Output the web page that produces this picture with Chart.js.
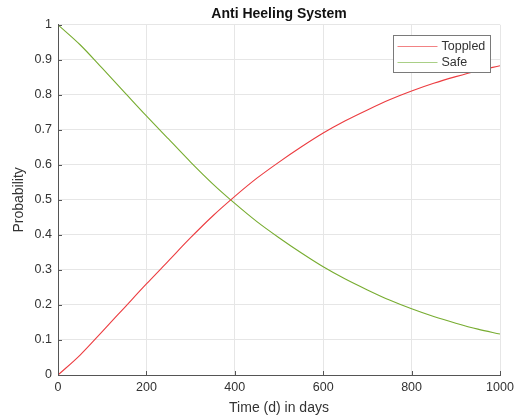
<!DOCTYPE html>
<html>
<head>
<meta charset="utf-8">
<script src="https://cdn.jsdelivr.net/npm/chart.js@4"></script>
<style>
  html, body { margin: 0; padding: 0; background: #fff; }
  #wrap { width: 522px; height: 419px; }
</style>
</head>
<body>
<div id="wrap"><canvas id="chart" width="522" height="419"></canvas></div>
<script>
// values, every 50 days
const days = [0, 50, 100, 150, 200, 250, 300, 350, 400, 450, 500, 550, 600, 650, 700, 750, 800, 850, 900, 950, 1000];
const toppled = [0.000, 0.057, 0.124, 0.192, 0.260, 0.326, 0.392, 0.454, 0.510, 0.562, 0.608, 0.651, 0.691, 0.726, 0.757, 0.786, 0.811, 0.833, 0.852, 0.869, 0.883];
const safe = [1.000, 0.943, 0.876, 0.808, 0.740, 0.674, 0.608, 0.546, 0.490, 0.438, 0.392, 0.349, 0.309, 0.274, 0.243, 0.214, 0.189, 0.167, 0.148, 0.131, 0.117];
const xTicks = [0, 200, 400, 600, 800, 1000];
const yTicks = [0, 0.1, 0.2, 0.3, 0.4, 0.5, 0.6, 0.7, 0.8, 0.9, 1];

const FONT = "Arial, 'Liberation Sans', Helvetica, sans-serif";
const textColor = '#333333';

const toPoints = (xs, ys) => xs.map((x, i) => ({ x: x, y: ys[i] }));

// inward tick marks like the original plot
const innerTicks = {
    id: 'innerTicks',
    afterDraw(chart) {
        const { ctx, chartArea, scales } = chart;
        ctx.save();
        ctx.strokeStyle = '#555555';
        ctx.lineWidth = 1;
        ctx.beginPath();
        xTicks.forEach(v => {
            const px = Math.round(scales.x.getPixelForValue(v)) + 0.5;
            ctx.moveTo(px, chartArea.bottom);
            ctx.lineTo(px, chartArea.bottom - 4);
        });
        yTicks.forEach(v => {
            const py = Math.round(scales.y.getPixelForValue(v)) + 0.5;
            ctx.moveTo(chartArea.left, py);
            ctx.lineTo(chartArea.left + 4, py);
        });
        ctx.stroke();
        ctx.restore();
    }
};

// legend box sitting inside the plot, top right
const boxLegend = {
    id: 'boxLegend',
    afterDraw(chart) {
        const { ctx, chartArea } = chart;
        const w = 97, h = 37;
        const x0 = Math.round(chartArea.right - 10 - w) + 0.5;
        const y0 = Math.round(chartArea.top + 10) + 0.5;
        ctx.save();
        ctx.fillStyle = '#ffffff';
        ctx.strokeStyle = '#7a7a7a';
        ctx.lineWidth = 1;
        ctx.fillRect(x0, y0, w, h);
        ctx.strokeRect(x0, y0, w, h);
        ctx.font = '12.5px ' + FONT;
        ctx.textBaseline = 'middle';
        chart.data.datasets.forEach((ds, i) => {
            const ly = y0 + 11 + i * 16;
            ctx.strokeStyle = ds.legendColor;
            ctx.beginPath();
            ctx.moveTo(x0 + 4, ly);
            ctx.lineTo(x0 + 44, ly);
            ctx.stroke();
            ctx.fillStyle = textColor;
            ctx.fillText(ds.label, x0 + 48, ly);
        });
        ctx.restore();
    }
};

new Chart(document.getElementById('chart'), {
    type: 'line',
    data: {
        datasets: [
            {
                label: 'Toppled',
                data: toPoints(days, toppled),
                borderColor: 'rgb(236, 60, 64)',
                legendColor: 'rgb(242, 130, 132)',
                borderWidth: 1.1,
                pointRadius: 0,
                cubicInterpolationMode: 'monotone'
            },
            {
                label: 'Safe',
                data: toPoints(days, safe),
                borderColor: '#77AC30',
                legendColor: '#a9cf86',
                borderWidth: 1.1,
                pointRadius: 0,
                cubicInterpolationMode: 'monotone'
            }
        ]
    },
    options: {
        responsive: false,
        animation: false,
        layout: { padding: { left: 0, right: 22, top: 0, bottom: 0 } },
        plugins: {
            legend: { display: false },
            tooltip: { enabled: false },
            title: {
                display: true,
                text: 'Anti Heeling System',
                fullSize: false,
                color: '#111111',
                font: { family: FONT, size: 14, weight: 'bold' },
                padding: { top: 6, bottom: 2 }
            }
        },
        scales: {
            x: {
                type: 'linear',
                min: 0,
                max: 1000,
                afterBuildTicks: s => { s.ticks = xTicks.map(v => ({ value: v })); },
                afterFit: s => { s.height = 44; },
                ticks: {
                    color: textColor,
                    font: { family: FONT, size: 12.5 },
                    padding: 5,
                    maxRotation: 0,
                    callback: v => String(v)
                },
                grid: { color: '#e6e6e6', drawTicks: false },
                border: { color: '#555555' },
                title: {
                    display: true,
                    text: 'Time (d) in days',
                    color: textColor,
                    font: { family: FONT, size: 14 },
                    padding: { top: 0, bottom: 2 }
                }
            },
            y: {
                type: 'linear',
                min: 0,
                max: 1,
                afterBuildTicks: s => { s.ticks = yTicks.map(v => ({ value: v })); },
                afterFit: s => { s.width = 58; },
                ticks: {
                    color: textColor,
                    font: { family: FONT, size: 12.5 },
                    padding: 6,
                    callback: v => String(Math.round(v * 10) / 10)
                },
                grid: { color: '#e6e6e6', drawTicks: false },
                border: { color: '#555555' },
                title: {
                    display: true,
                    text: 'Probability',
                    color: textColor,
                    font: { family: FONT, size: 14 },
                    padding: { top: 11, bottom: 0 }
                }
            }
        }
    },
    plugins: [innerTicks, boxLegend]
});
</script>
</body>
</html>
